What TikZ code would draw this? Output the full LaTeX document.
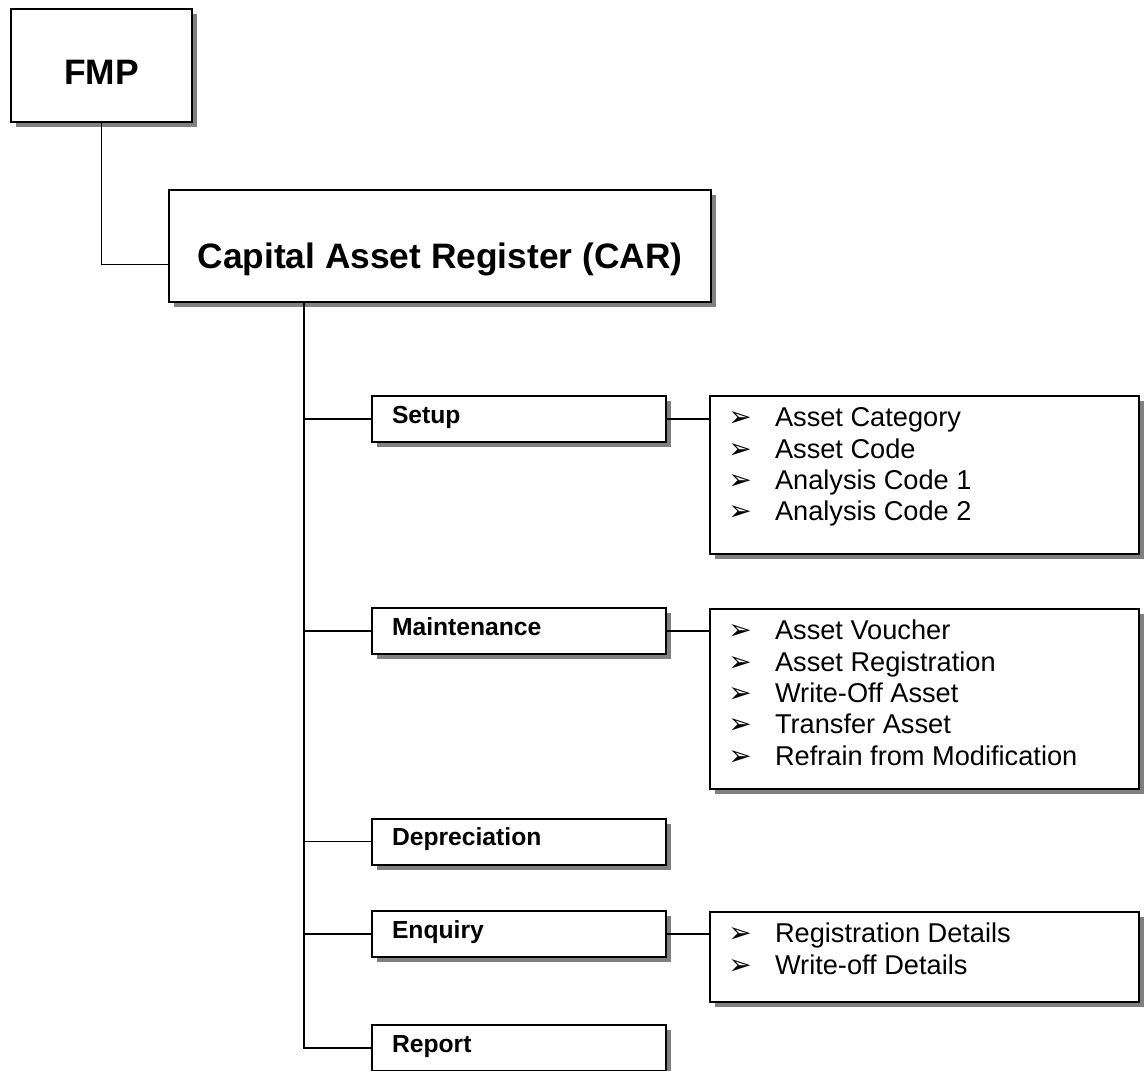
\documentclass[tikz,border=0pt]{standalone}
\usepackage{fontspec}
\setmainfont{Liberation Sans}
\newfontfamily\arrowfont{DejaVu Sans}
\usetikzlibrary{shadows}
\newcommand{\arrowitem}[1]{\makebox[33pt][l]{\hspace{-2pt}\arrowfont\fontsize{21pt}{21pt}\selectfont ➢}#1}
\newcommand{\itembox}[2]{\parbox[t][#1][t]{290.25pt}{\raggedright\fontsize{20.4pt}{23.6pt}\selectfont\strut #2}}
\begin{document}
\begin{tikzpicture}[x=0.75pt,y=0.75pt,yscale=-1,xscale=1,
  box/.style={draw, line width=1.5pt, fill=white, drop shadow={shadow xshift=3.75pt, shadow yshift=-3.75pt, opacity=1, fill=black!50}},
  topbox/.style={box, font=\fontsize{26.5pt}{30pt}\selectfont\bfseries, inner sep=0pt},
  menubox/.style={box, font=\fontsize{18.5pt}{22pt}\selectfont\bfseries, inner xsep=15pt, inner ysep=0pt, text width=190.5pt, align=left, text height=20.25pt, text depth=14.25pt},
  listbox/.style={box, inner xsep=15.75pt, inner ysep=6.4pt},
  link/.style={line width=1.1pt}]

\useasboundingbox (0,0) rectangle (1144,1070);

\node [topbox, minimum width=135.75pt, text height=57pt, text depth=27.75pt] (fmp) at (101.5,65.5) {FMP};
\node [topbox, minimum width=406.5pt, text height=58.5pt, text depth=25.5pt] (car) at (440,246) {Capital Asset Register (CAR)};

\node [menubox] (setup) at (519,419) {Setup};
\node [menubox] (maint) at (519,631) {Maintenance};
\node [menubox] (depr) at (519,841.5) {Depreciation};
\node [menubox] (enq) at (519,934) {Enquiry};
\node [menubox] (report) at (519,1048) {Report};

\node [listbox] (setuplist) at (924.5,475) {\itembox{105.7pt}{\arrowitem{Asset Category}\\\arrowitem{Asset Code}\\\arrowitem{Analysis Code 1}\\\arrowitem{Analysis Code 2}}};
\node [listbox] (maintlist) at (924.5,699) {\itembox{122.2pt}{\arrowitem{Asset Voucher}\\\arrowitem{Asset Registration}\\\arrowitem{Write-Off Asset}\\\arrowitem{Transfer Asset}\\\arrowitem{Refrain from Modification}}};
\node [listbox] (enqlist) at (924.5,957) {\itembox{54.7pt}{\arrowitem{Registration Details}\\\arrowitem{Write-off Details}}};

\coordinate (trunk) at (304,302);

\draw [link] (fmp.south) |- (car.mid west);
\draw [link] (trunk) |- (report.west);
\draw [link] (trunk |- setup.west) -- (setup.west);
\draw [link] (trunk |- maint.west) -- (maint.west);
\draw [link] (trunk |- depr.west) -- (depr.west);
\draw [link] (trunk |- enq.west) -- (enq.west);
\draw [link] (setup.east) -- (setup.east -| setuplist.west);
\draw [link] (maint.east) -- (maint.east -| maintlist.west);
\draw [link] (enq.east) -- (enq.east -| enqlist.west);

\end{tikzpicture}
\end{document}
